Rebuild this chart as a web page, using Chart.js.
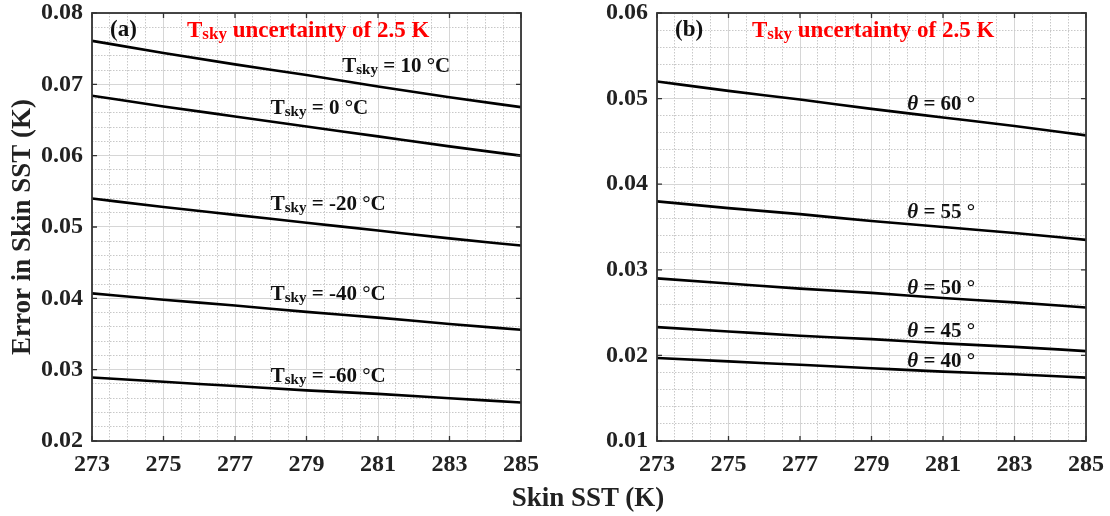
<!DOCTYPE html>
<html><head><meta charset="utf-8">
<script src="https://cdn.jsdelivr.net/npm/chart.js@4.4.1/dist/chart.umd.min.js"></script>
<style>
body{margin:0;background:#fff;width:1110px;height:516px;position:relative;overflow:hidden}
canvas{position:absolute;top:0}
#xtitle{position:absolute;left:435px;width:306px;top:482px;text-align:center;font:bold 27px "Liberation Serif";color:#222}
</style></head><body>
<canvas id="c1" width="555" height="516" style="left:0"></canvas>
<canvas id="c2" width="555" height="516" style="left:555px"></canvas>
<div id="xtitle">Skin SST (K)</div>
<script>
// ---- data ----
const sst = [273, 275, 277, 279, 281, 283, 285];
// panel (a): Tsky uncertainty of 2.5 K, different Tsky
const errTsky10  = [0.0761, 0.0744, 0.0728, 0.0713, 0.0697, 0.0682, 0.0668];
const errTsky0   = [0.0684, 0.0669, 0.0655, 0.0641, 0.0627, 0.0613, 0.0600];
const errTskyM20 = [0.0540, 0.0528, 0.0517, 0.0506, 0.0495, 0.0484, 0.0474];
const errTskyM40 = [0.0407, 0.0398, 0.0390, 0.0381, 0.0373, 0.0364, 0.0356];
const errTskyM60 = [0.0289, 0.0283, 0.0277, 0.0271, 0.0266, 0.0260, 0.0254];
// panel (b): different view angle
const errTheta60 = [0.0520, 0.0509, 0.0499, 0.0488, 0.0478, 0.0468, 0.0457];
const errTheta55 = [0.0380, 0.0372, 0.0365, 0.0357, 0.0350, 0.0343, 0.0335];
const errTheta50 = [0.0290, 0.0284, 0.0278, 0.0273, 0.0267, 0.0262, 0.0256];
const errTheta45 = [0.0233, 0.0228, 0.0223, 0.0219, 0.0214, 0.0210, 0.0205];
const errTheta40 = [0.0197, 0.0193, 0.0189, 0.0185, 0.0181, 0.0178, 0.0174];

const xTickLabels = ['273','275','277','279','281','283','285'];
const yTickLabelsA = ['0.02','0.03','0.04','0.05','0.06','0.07','0.08'];
const yTickLabelsB = ['0.01','0.02','0.03','0.04','0.05','0.06'];

const tskyNames = ['10','0','-20','-40','-60'];
const thetaNames = ['60','55','50','45','40'];
// annotation anchors (data units): x start, baseline value
const tskyLabelX = [280.0, 278.0, 278.0, 278.0, 278.0];
const tskyLabelY = [0.0717, 0.0659, 0.0524, 0.0398, 0.0283];
const thetaLabelX = [280.0, 280.0, 280.0, 280.0, 280.0];
const thetaLabelY = [0.0487, 0.0360, 0.0272, 0.0221, 0.0187];

const FONT = '"Liberation Serif", "Times New Roman", serif';

function pts(ys){ return sst.map((x,i)=>({x:x, y:ys[i]})); }
function ds(ys){ return {data:pts(ys), borderColor:'#000', borderWidth:2.6, pointRadius:0, fill:false, cubicInterpolationMode:'monotone'}; }

function isMajorX(v){ const k=(v-273)/2; return Math.abs(k-Math.round(k))<1e-6; }
function isMajorY(v){ const k=v*100; return Math.abs(k-Math.round(k))<1e-6; }

function drawRich(ctx, x, y, parts){
  let cx = x;
  for (const p of parts){
    ctx.font = (p.italic?'italic ':'') + 'bold ' + p.size + 'px ' + FONT;
    ctx.fillText(p.t, cx, y + (p.dy||0));
    cx += ctx.measureText(p.t).width;
  }
}

const decor = {
  id:'decor',
  afterDatasetsDraw(chart, args, o){
    const {ctx, chartArea:a, scales:{x, y}} = chart;
    ctx.save();
    ctx.strokeStyle = '#333'; ctx.lineWidth = 1.3;
    ctx.beginPath();
    for (const s of xTickLabels){ const px = x.getPixelForValue(+s);
      ctx.moveTo(px, a.bottom); ctx.lineTo(px, a.bottom-5);
      ctx.moveTo(px, a.top); ctx.lineTo(px, a.top+5); }
    for (const s of o.yTicks){ const py = y.getPixelForValue(+s);
      ctx.moveTo(a.left, py); ctx.lineTo(a.left+5, py);
      ctx.moveTo(a.right, py); ctx.lineTo(a.right-5, py); }
    ctx.stroke();
    ctx.lineWidth = 1.8;
    ctx.strokeRect(a.left, a.top, a.width, a.height);
    ctx.textBaseline = 'alphabetic'; ctx.textAlign = 'left';
    // panel letter
    ctx.fillStyle = '#111';
    ctx.font = 'bold 23px ' + FONT;
    ctx.fillText(o.letter, a.left + o.letterDx, a.top + 23);
    // red title
    ctx.fillStyle = '#ff0000';
    drawRich(ctx, a.left + o.titleDx, a.top + 24, [
      {t:'T', size:23}, {t:'sky', size:17, dy:2}, {t:' uncertainty of 2.5 K', size:23}]);
    // curve labels
    ctx.fillStyle = '#111';
    o.labels.forEach(l => {
      const px = x.getPixelForValue(l.x), py = y.getPixelForValue(l.y);
      drawRich(ctx, px, py, l.parts);
    });
    ctx.restore();
  }
};

function xScale(){
  return {type:'linear', min:273, max:285,
    ticks:{stepSize:0.5, autoSkip:false, maxRotation:0, padding:9, color:'#222',
      font:{family:FONT, size:24, weight:'bold'},
      callback:v => isMajorX(v) ? String(Math.round(v)) : ''},
    grid:{drawTicks:false, lineWidth:1, color:c => isMajorX(c.tick.value) ? '#d6d6d6' : '#c8c8c8'},
    border:{display:false, dash:c => isMajorX(c.tick.value) ? [] : [1.5,1.5]},
    afterFit:s => { s.height = 75; s.paddingLeft = 0; s.paddingRight = 0; }};
}
function yScale(min, max, w, title){
  return {type:'linear', min:min, max:max,
    ticks:{stepSize:0.002, autoSkip:false, padding:9, color:'#222',
      font:{family:FONT, size:24, weight:'bold', lineHeight:1.0},
      callback:v => isMajorY(v) ? v.toFixed(2) : ''},
    grid:{drawTicks:false, lineWidth:1, color:c => isMajorY(c.tick.value) ? '#d6d6d6' : '#c8c8c8'},
    border:{display:false, dash:c => isMajorY(c.tick.value) ? [] : [1.5,1.5]},
    title:{display:!!title, text:title||'', color:'#222', font:{family:FONT, size:27, weight:'bold'}, padding:{top:7, bottom:0}},
    afterFit:s => { s.width = w; s.paddingTop = 0; s.paddingBottom = 0; }};
}

const tskyLabels = tskyNames.map((n,i)=>({x:tskyLabelX[i], y:tskyLabelY[i],
  parts:[{t:'T', size:21}, {t:'sky', size:15, dy:2}, {t:' = ' + n + ' °C', size:21}]}));
const thetaLabels = thetaNames.map((n,i)=>({x:thetaLabelX[i], y:thetaLabelY[i],
  parts:[{t:'θ', size:21, italic:true}, {t:' = ' + n + ' °', size:21}]}));

Chart.defaults.animation = false;

new Chart(document.getElementById('c1'), {
  type:'line',
  data:{datasets:[ds(errTsky10), ds(errTsky0), ds(errTskyM20), ds(errTskyM40), ds(errTskyM60)]},
  options:{responsive:false, animation:false, layout:{padding:{top:13, right:34, bottom:0, left:0}},
    plugins:{legend:{display:false}, tooltip:{enabled:false},
      decor:{letter:'(a)', letterDx:18, titleDx:95, yTicks:yTickLabelsA, labels:tskyLabels}},
    scales:{x:xScale(), y:yScale(0.02, 0.08, 92, 'Error in Skin SST (K)')}},
  plugins:[decor]
});
new Chart(document.getElementById('c2'), {
  type:'line',
  data:{datasets:[ds(errTheta60), ds(errTheta55), ds(errTheta50), ds(errTheta45), ds(errTheta40)]},
  options:{responsive:false, animation:false, layout:{padding:{top:13, right:24, bottom:0, left:0}},
    plugins:{legend:{display:false}, tooltip:{enabled:false},
      decor:{letter:'(b)', letterDx:18, titleDx:95, yTicks:yTickLabelsB, labels:thetaLabels}},
    scales:{x:xScale(), y:yScale(0.01, 0.06, 102, '')}},
  plugins:[decor]
});
</script>
</body></html>
